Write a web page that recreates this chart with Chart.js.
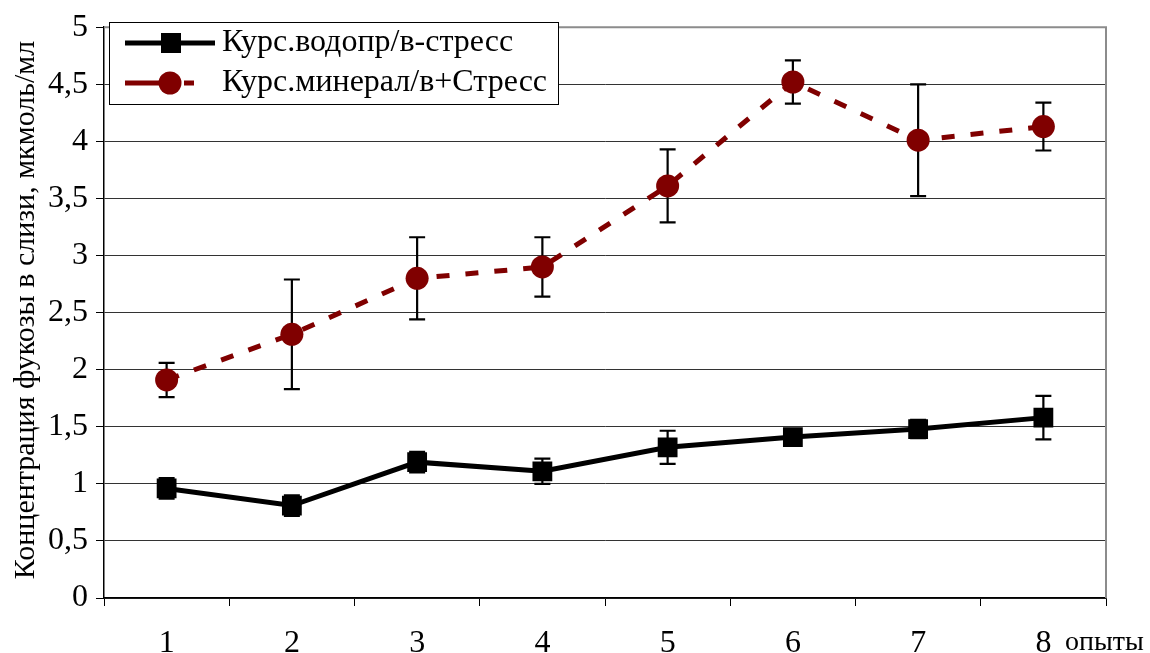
<!DOCTYPE html>
<html>
<head>
<meta charset="utf-8">
<script src="https://cdn.jsdelivr.net/npm/chart.js@4/dist/chart.umd.min.js"></script>
<style>
  html, body { margin: 0; padding: 0; background: #fff; }
  #wrap { width: 1150px; height: 653px; position: relative; }
</style>
</head>
<body>
<div id="wrap"><canvas id="c" width="1150" height="653"></canvas></div>
<script>
// Experiments (опыты)
const categories = ['1', '2', '3', '4', '5', '6', '7', '8'];

// Fucose concentration in mucus, µmol/ml
const waterStress = [0.96, 0.81, 1.19, 1.11, 1.32, 1.41, 1.48, 1.58];
const waterStressErr = [0.09, 0.09, 0.09, 0.11, 0.145, 0.06, 0.08, 0.19];
const mineralStress = [1.91, 2.31, 2.80, 2.90, 3.61, 4.52, 4.01, 4.13];
const mineralStressErr = [0.15, 0.48, 0.36, 0.26, 0.32, 0.19, 0.49, 0.21];

const seriesNames = ['Курс.водопр/в-стресс', 'Курс.минерал/в+Стресс'];
const yTitle = 'Концентрация фукозы в слизи, мкмоль/мл';
const xTitle = 'опыты';

const FONT = '"Liberation Serif", "Times New Roman", serif';
const MAROON = '#800000';
const DASH = [13, 16];

// Vertical error bars with caps, drawn beneath the markers
const errorBars = {
  id: 'errorBars',
  beforeDatasetsDraw(chart) {
    const ctx = chart.ctx;
    const y = chart.scales.y;
    const errs = [waterStressErr, mineralStressErr];
    ctx.save();
    ctx.strokeStyle = '#000';
    ctx.lineWidth = 2.2;
    chart.data.datasets.forEach((ds, di) => {
      const meta = chart.getDatasetMeta(di);
      meta.data.forEach((pt, i) => {
        const v = ds.data[i], e = errs[di][i];
        const yTop = y.getPixelForValue(v + e);
        const yBot = y.getPixelForValue(v - e);
        ctx.beginPath();
        ctx.moveTo(pt.x, yTop); ctx.lineTo(pt.x, yBot);
        ctx.moveTo(pt.x - 8, yTop); ctx.lineTo(pt.x + 8, yTop);
        ctx.moveTo(pt.x - 8, yBot); ctx.lineTo(pt.x + 8, yBot);
        ctx.stroke();
      });
    });
    ctx.restore();
  }
};

// Plot frame, axis title, x-axis caption and the boxed legend
const decorations = {
  id: 'decorations',
  afterDraw(chart) {
    const ctx = chart.ctx;
    const a = chart.chartArea;
    ctx.save();

    // grey frame on the top and right of the plot area
    ctx.strokeStyle = '#8c8c8c';
    ctx.lineWidth = 2;
    ctx.beginPath();
    ctx.moveTo(a.left, a.top);
    ctx.lineTo(a.right, a.top);
    ctx.lineTo(a.right, a.bottom);
    ctx.stroke();

    // y-axis title
    ctx.fillStyle = '#000';
    ctx.font = '30px ' + FONT;
    ctx.textAlign = 'center';
    ctx.textBaseline = 'middle';
    ctx.save();
    ctx.translate(26, 310);
    ctx.rotate(-Math.PI / 2);
    ctx.fillText(yTitle, 0, 0);
    ctx.restore();

    // x-axis caption beside the last category
    ctx.textAlign = 'left';
    ctx.font = '28px ' + FONT;
    const xs = chart.scales.x;
    const lastLabelY = xs.top + 8 + 18 + 19;
    ctx.fillText(xTitle, 1065, lastLabelY);

    // legend box
    const bx = 109, by = 22, bw = 449, bh = 82;
    ctx.fillStyle = '#fff';
    ctx.fillRect(bx, by, bw, bh);
    ctx.strokeStyle = '#000';
    ctx.lineWidth = 1;
    ctx.strokeRect(bx + 0.5, by + 0.5, bw, bh);

    const rows = [43, 83];
    // row 1: solid black line with square marker
    ctx.strokeStyle = '#000';
    ctx.lineWidth = 5;
    ctx.beginPath(); ctx.moveTo(125, rows[0]); ctx.lineTo(215, rows[0]); ctx.stroke();
    ctx.fillStyle = '#000';
    ctx.fillRect(171 - 10, rows[0] - 10, 20, 20);
    // row 2: dashed maroon line with circle marker
    ctx.strokeStyle = MAROON;
    ctx.setLineDash([45, 14, 10, 30]);
    ctx.beginPath(); ctx.moveTo(125, rows[1]); ctx.lineTo(194, rows[1]); ctx.stroke();
    ctx.setLineDash([]);
    ctx.fillStyle = MAROON;
    ctx.beginPath(); ctx.arc(170, rows[1], 11.5, 0, Math.PI * 2); ctx.fill();

    ctx.fillStyle = '#000';
    ctx.font = '32px ' + FONT;
    ctx.textAlign = 'left';
    ctx.textBaseline = 'middle';
    ctx.fillText(seriesNames[0], 222, rows[0]);
    ctx.fillText(seriesNames[1], 222, rows[1]);

    ctx.restore();
  }
};

new Chart(document.getElementById('c'), {
  type: 'line',
  data: {
    labels: categories,
    datasets: [
      {
        label: seriesNames[0],
        data: waterStress,
        borderColor: '#000',
        backgroundColor: '#000',
        borderWidth: 5,
        pointStyle: 'rect',
        pointRadius: 14,
        pointBorderWidth: 0,
        tension: 0
      },
      {
        label: seriesNames[1],
        data: mineralStress,
        borderColor: MAROON,
        backgroundColor: MAROON,
        borderWidth: 5,
        borderDash: DASH,
        pointStyle: 'circle',
        pointRadius: 11.5,
        pointBorderWidth: 0,
        tension: 0
      }
    ]
  },
  options: {
    responsive: false,
    animation: false,
    layout: { padding: { top: 26, right: 44, left: 0, bottom: 0 } },
    plugins: {
      legend: { display: false },
      tooltip: { enabled: false }
    },
    scales: {
      x: {
        offset: true,
        grid: {
          offset: true,
          drawOnChartArea: false,
          drawTicks: true,
          tickLength: 8,
          color: '#000'
        },
        border: { display: true, color: '#000', width: 1.5 },
        ticks: {
          color: '#000',
          padding: 18,
          font: { family: FONT, size: 32 }
        },
        afterFit(s) { s.height = 55; }
      },
      y: {
        min: 0,
        max: 5,
        ticks: {
          stepSize: 0.5,
          color: '#000',
          padding: 8,
          font: { family: FONT, size: 32 },
          callback: v => String(v).replace('.', ',')
        },
        grid: {
          color: '#333',
          lineWidth: 1,
          tickLength: 8,
          tickColor: '#000'
        },
        border: { display: true, color: '#000', width: 1.5 },
        afterFit(s) { s.width = 104; }
      }
    }
  },
  plugins: [errorBars, decorations]
});
</script>
</body>
</html>
